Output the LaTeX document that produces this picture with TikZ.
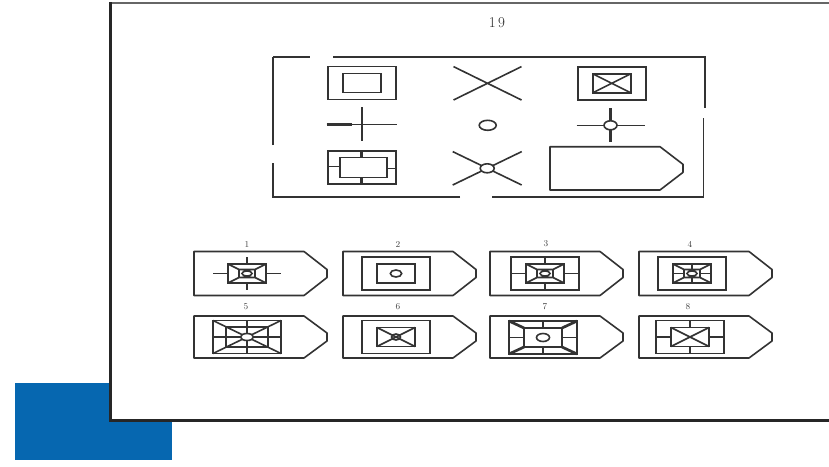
\documentclass[tikz,border=0pt]{standalone}
\definecolor{pzblue}{RGB}{6,103,176}
\definecolor{ink}{gray}{0.2}
\tikzset{
  ln/.style={draw=ink, line width=1.6pt},
  thk/.style={draw=ink, line width=2.7pt},
  lbl/.style={text=black!75, font=\fontsize{9}{9}\selectfont, inner sep=0pt},
}
% answer container (house shape): left, top, bottom
\newcommand\pzHouse[3]{\draw[ln, line join=round] ({#1+110},#2) -- (#1,#2) -- (#1,#3) -- ({#1+110},#3) -- ({#1+133},{(#2+#3)/2+4}) -- ({#1+133},{(#2+#3)/2-4}) -- cycle;}
% local parts (drawn inside a shifted scope)
\newcommand\pzSq{\draw[ln] (-34,-16.5) rectangle (34,16.5);}
\newcommand\pzIn{\draw[ln] (-19,-9.5) rectangle (19,9.5);}
\newcommand\pzStubs{\draw[thk] (0,-16.5)--(0,-9.5) (0,9.5)--(0,16.5); \draw[ln] (-34,0)--(-19,0) (19,0)--(34,0);}
\newcommand\pzFrame{\draw[ln] (-19,-9.5) rectangle (19,9.5) (-8,-4) rectangle (8,4)
   (-19,-9.5)--(-8,-4) (19,-9.5)--(8,-4) (-19,9.5)--(-8,4) (19,9.5)--(8,4)
   (0,0) ellipse [x radius=5, y radius=2.6];}
\newcommand\pzXin{\draw[ln] (-19,-9.5)--(19,9.5) (-19,9.5)--(19,-9.5);}
\begin{document}
\begin{tikzpicture}[x=1pt, y=-1pt]
\useasboundingbox (0,0) rectangle (829,466);
% blue square behind the sheet
\fill[pzblue] (15,383) rectangle (172,460);
% sheet
\fill[white] (110,3) rectangle (845,420);
\draw[black!60, line width=2pt] (845,3) -- (110,3);
\draw[black!85, line width=3pt] (110,2) -- (110,420) -- (845,420);
% title
\node[text=black!85, font=\fontsize{15}{15}\selectfont] (title) at (497,23) {1\,9};

% ---------- matrix box ----------
\draw[ln] (273,57) -- (310,57) (333,57) -- (705,57) -- (705,108)
          (703.5,118) -- (703.5,197) -- (492,197) (460,197) -- (273,197) -- (273,163)
          (273,145) -- (273,57);
% row 1
\begin{scope}[shift={(361.7,82.8)}] \pzSq \pzIn \end{scope}
\begin{scope}[shift={(487.5,83.3)}] \draw[ln] (-34,-16.7)--(34,16.7) (-34,16.7)--(34,-16.7); \end{scope}
\begin{scope}[shift={(611.7,83.3)}] \pzSq \pzIn \pzXin \end{scope}
% row 2
\begin{scope}[shift={(361.7,124.3)}]
  \draw[ln] (-35,0)--(35,0) (0,-17)--(0,17);
  \draw[ink, line width=2.4pt] (-35,0)--(-10,0);
\end{scope}
\begin{scope}[shift={(487.7,125.3)}] \draw[ln] (0,0) ellipse [x radius=8.5, y radius=5]; \end{scope}
\begin{scope}[shift={(610.5,125.3)}]
  \draw[ln] (-34,0)--(34,0);
  \draw[thk] (0,-17)--(0,17);
  \filldraw[ln, fill=white] (0,0) ellipse [x radius=6.5, y radius=4.5];
\end{scope}
% row 3
\begin{scope}[shift={(361.7,167.5)}]
  \pzSq
  \draw[ln] (-22,-10) rectangle (25,10);
  \draw[thk] (0,-16.5)--(0,-10) (0,10)--(0,16.5);
  \draw[ln] (-34,-1)--(-22,-1) (25,1)--(34,1);
\end{scope}
\begin{scope}[shift={(487.2,168.3)}]
  \draw[ln] (-34.5,-16.7)--(34.5,16.7) (-34.5,16.7)--(34.5,-16.7);
  \filldraw[ln, fill=white] (0,0) ellipse [x radius=7, y radius=4.5];
\end{scope}
\pzHouse{550}{146.7}{190}

% ---------- answer options, row 1 ----------
\pzHouse{194}{251.5}{295.5}
\pzHouse{343}{251.5}{295.5}
\pzHouse{490}{251.5}{295.5}
\pzHouse{639}{251.5}{295.5}
\node[lbl] (l1) at (247,244) {1};
\node[lbl] (l2) at (398,244) {2};
\node[lbl] (l3) at (546,244) {3};
\node[lbl] (l4) at (690,244.5) {4};
% option 1
\begin{scope}[shift={(247,273.5)}] \pzFrame \pzStubs \end{scope}
% option 2
\begin{scope}[shift={(396,273.5)}] \pzSq \pzIn \draw[ln] (0,0) ellipse [x radius=5.7, y radius=3.5]; \end{scope}
% option 3
\begin{scope}[shift={(545,273.5)}] \pzSq \pzStubs \pzFrame \end{scope}
% option 4
\begin{scope}[shift={(692,273.5)}]
  \pzSq \pzFrame
  \draw[ln] (0,-9.5)--(0,-4) (0,4)--(0,9.5) (-19,0)--(-8,0) (8,0)--(19,0);
\end{scope}

% ---------- answer options, row 2 ----------
\pzHouse{194}{316}{358}
\pzHouse{343}{316}{358}
\pzHouse{490}{316}{358}
\pzHouse{639}{316}{358}
\node[lbl] (l5) at (246,306.5) {5};
\node[lbl] (l6) at (398,306.5) {6};
\node[lbl] (l7) at (545,307) {7};
\node[lbl] (l8) at (688,307) {8};
% option 5
\begin{scope}[shift={(247,337)}]
  \pzSq
  \draw[ln] (-21,-10) rectangle (21,10);
  \draw[ln] (-34,-16.5)--(34,16.5) (-34,16.5)--(34,-16.5) (-34,0)--(34,0);
  \draw[thk] (0,-16.5)--(0,16.5);
  \filldraw[ln, fill=white] (0,0) ellipse [x radius=6.5, y radius=3.5];
\end{scope}
% option 6
\begin{scope}[shift={(396,337)}]
  \pzSq \pzIn \pzXin
  \draw[ln] (0,0) ellipse [x radius=4.5, y radius=3];
\end{scope}
% option 7
\begin{scope}[shift={(543,337.5)}]
  \pzSq \pzStubs \pzIn
  \draw[thk] (-34,-16.5)--(-19,-9.5) (34,-16.5)--(19,-9.5) (-34,16.5)--(-19,9.5) (34,16.5)--(19,9.5);
  \draw[ln] (0,0) ellipse [x radius=6.5, y radius=4];
\end{scope}
% option 8
\begin{scope}[shift={(690,337)}]
  \pzSq \pzStubs \pzIn \pzXin
\end{scope}
\end{tikzpicture}
\end{document}
